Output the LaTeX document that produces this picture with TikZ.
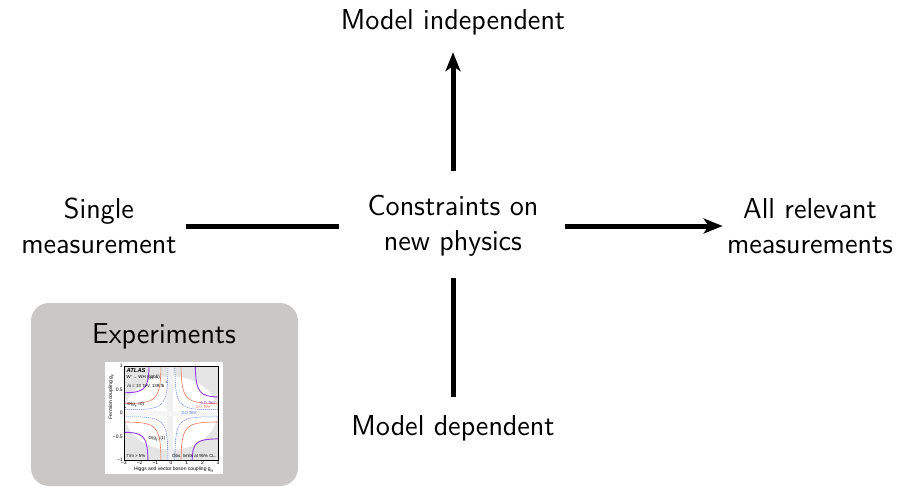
\documentclass[tikz,border=0pt]{standalone}
\usepackage{fontspec}
\usetikzlibrary{arrows.meta}
\newfontfamily\plotfont{Liberation Sans}
\definecolor{boxgray}{RGB}{201,200,198}
\definecolor{curvepurple}{RGB}{150,60,230}
\definecolor{curveorange}{RGB}{240,120,90}
\definecolor{curveblue}{RGB}{90,120,240}
\begin{document}
\begin{tikzpicture}[x=0.5pt,y=-0.5pt,
  lbl/.style={font=\sffamily\fontsize{14.4}{17.5}\selectfont, align=center, inner sep=0pt},
  link/.style={line width=2.5pt},
  arr/.style={link, -{Stealth[length=9.5pt,width=7.5pt,inset=2.5pt]}},
  tinytext/.style={font=\plotfont\fontsize{2.2}{2.6}\selectfont, inner sep=0pt, align=left},
  ticktext/.style={font=\plotfont\fontsize{2.5}{3}\selectfont, inner sep=0.4pt}]
\useasboundingbox (0,0) rectangle (903,488);

% main labels
\node[lbl] (top)   at (453,22)  {Model independent};
\node[lbl] (mid)   at (453,226) {Constraints on\\new physics};
\node[lbl] (left)  at (99,226)  {Single\\measurement};
\node[lbl] (right) at (810,226) {All relevant\\measurements};
\node[lbl] (bot)   at (453,428) {Model dependent};

% connectors
\draw[arr,  shorten <=12pt, shorten >=8.5pt] (mid) -- (top);
\draw[link, shorten <=14pt, shorten >=4.5pt] (mid) -- (left);
\draw[arr,  shorten <=13pt, shorten >=2pt]   (mid) -- (right);
\draw[link, shorten <=10.5pt, shorten >=9pt] (mid) -- (bot);

% experiments panel
\fill[boxgray, rounded corners=9pt] (31,303) rectangle (298,486);
\node[lbl] (exptitle) at (164,336) {Experiments};

% exclusion plot thumbnail
\fill[white] (105,362) rectangle (223,474);
\coordinate (pc) at (171,413);
\begin{scope}[shift={(pc)}, x=7.85pt, y=23.5pt]
  \fill[black!10] (-3,-1) rectangle (3,1);
  \fill[white] (0,0) ellipse [x radius=2.95, y radius=0.78];
  \fill[black!6] (-0.25,-1) rectangle (0.12,1);
  \fill[black!4] (-3,-0.06) rectangle (3,0.04);
  % 4.0 TeV
  \begin{scope}[curvepurple, line width=0.45pt]
    \draw (-1.4,1) .. controls (-1.42,0.47) and (-1.8,0.44) .. (-3,0.43);
    \draw (1.55,1) .. controls (1.57,0.4) and (1.9,0.36) .. (3,0.34);
    \draw (-1.47,-1) .. controls (-1.49,-0.45) and (-1.85,-0.42) .. (-3,-0.41);
    \draw (1.35,-1) .. controls (1.37,-0.6) and (1.7,-0.56) .. (3,-0.55);
  \end{scope}
  % 3.0 TeV
  \begin{scope}[curveorange, line width=0.3pt]
    \draw (-0.64,1) .. controls (-0.66,0.24) and (-1,0.21) .. (-3,0.2);
    \draw (0.64,1) .. controls (0.66,0.24) and (1,0.21) .. (3,0.2);
    \draw (-0.64,-1) .. controls (-0.66,-0.23) and (-1,-0.2) .. (-3,-0.19);
    \draw (0.64,-1) .. controls (0.66,-0.23) and (1,-0.2) .. (3,-0.19);
  \end{scope}
  % 2.0 TeV
  \begin{scope}[curveblue, line width=0.25pt, dash pattern=on 0.6pt off 0.4pt]
    \draw (-0.2,1) .. controls (-0.21,0.08) and (-0.4,0.07) .. (-3,0.07);
    \draw (0.25,1) .. controls (0.26,0.08) and (0.45,0.07) .. (3,0.07);
    \draw (-0.2,-1) .. controls (-0.21,-0.09) and (-0.4,-0.08) .. (-3,-0.08);
    \draw (0.25,-1) .. controls (0.26,-0.09) and (0.45,-0.08) .. (3,-0.08);
  \end{scope}
  \node[tinytext, text=curvepurple] (l4) at (2.35,0.22) {4.0 TeV};
  \node[tinytext, text=curveorange] (l3) at (2.05,0.12) {3.0 TeV};
  \node[tinytext, text=curveblue]   (l2) at (1.15,0.0) {2.0 TeV};
  \node[tinytext, anchor=north west] (atlas) at (-2.85,0.95)
    {{\fontsize{2.9}{3.2}\selectfont\bfseries\itshape ATLAS}\\[0.15pt]
     W′ → WH (q\=qb\=b)\\[0.15pt]
     √s = 13 TeV, 139 fb\textsuperscript{−1}};
  \node[tinytext, anchor=west] (gf0) at (-2.8,0.17) {Θ(g\textsubscript{F}=0)};
  \fill (-2.92,0.12) circle (0.25pt);
  \node[tinytext, anchor=west] (gf1) at (-1.45,-0.55) {Θ(g\textsubscript{F}=1)};
  \fill (-0.62,-0.57) circle (0.25pt);
  \node[tinytext, anchor=south west] (gam) at (-2.85,-0.95) {Γ/m > 5\%};
  \node[tinytext, anchor=south east] (obs) at (2.9,-0.95) {Obs. limits at 95\% CL.};
  \draw[line width=0.2pt] (-3,-1) rectangle (3,1);
  \foreach \t/\s in {-3/−3,-2/−2,-1/−1,0/0,1/1,2/2,3/3}
    \node[ticktext, anchor=north] at (\t,-1) {\s};
  \foreach \t/\s in {-1/−1,-0.5/−0.5,0/0,0.5/0.5,1/1}
    \node[ticktext, anchor=east] at (-3,\t) {\s};
  \node[ticktext, anchor=north] (xlab) at (0.2,-1.11) {Higgs and vector boson coupling g\textsubscript{H}};
  \node[ticktext, rotate=90, anchor=south] (ylab) at (-3.55,0.35) {Fermion coupling g\textsubscript{F}};
\end{scope}
\end{tikzpicture}
\end{document}
